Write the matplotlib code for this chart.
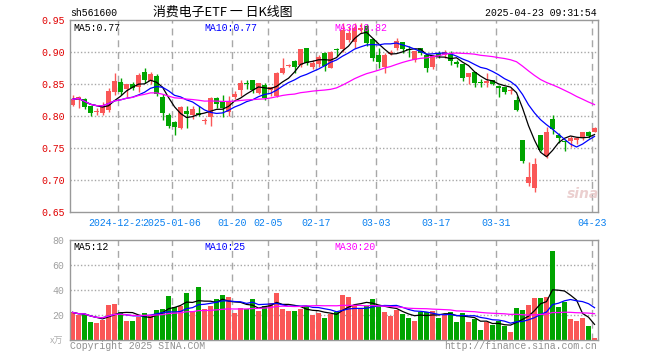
import matplotlib
matplotlib.use("Agg")
import matplotlib.pyplot as plt
import numpy as np
import pandas as pd

# daily K-line of sh561600
opens = [0.817, 0.825, 0.826, 0.815, 0.806, 0.805, 0.810, 0.838, 0.853, 0.842,
         0.850, 0.845, 0.869, 0.855, 0.862, 0.830, 0.802, 0.790, 0.782, 0.808,
         0.801, 0.804, 0.792, 0.799, 0.828, 0.824, 0.807, 0.829, 0.840, 0.852,
         0.857, 0.836, 0.849, 0.840, 0.831, 0.867, 0.878, 0.886, 0.880, 0.906,
         0.876, 0.881, 0.898, 0.875, 0.904, 0.905, 0.918, 0.916, 0.935, 0.940,
         0.921, 0.896, 0.877, 0.897, 0.906, 0.915, 0.905, 0.888, 0.906, 0.895,
         0.877, 0.899, 0.895, 0.899, 0.884, 0.881, 0.861, 0.868, 0.853, 0.852,
         0.857, 0.847, 0.846, 0.839, 0.825, 0.763, 0.696, 0.687, 0.770, 0.737,
         0.796, 0.770, 0.761, 0.761, 0.762, 0.765, 0.775, 0.775]
highs = [0.833, 0.831, 0.828, 0.816, 0.812, 0.822, 0.843, 0.867, 0.860, 0.850,
         0.853, 0.867, 0.875, 0.869, 0.865, 0.834, 0.805, 0.792, 0.815, 0.815,
         0.815, 0.816, 0.797, 0.830, 0.830, 0.833, 0.832, 0.839, 0.857, 0.857,
         0.857, 0.852, 0.852, 0.846, 0.868, 0.891, 0.881, 0.888, 0.904, 0.907,
         0.888, 0.895, 0.900, 0.901, 0.906, 0.945, 0.940, 0.946, 0.945, 0.943,
         0.922, 0.906, 0.898, 0.903, 0.922, 0.916, 0.909, 0.901, 0.906, 0.897,
         0.896, 0.901, 0.903, 0.901, 0.888, 0.881, 0.867, 0.868, 0.858, 0.867,
         0.857, 0.849, 0.846, 0.843, 0.831, 0.763, 0.728, 0.734, 0.770, 0.783,
         0.801, 0.773, 0.762, 0.769, 0.767, 0.775, 0.776, 0.783]
lows = [0.815, 0.812, 0.811, 0.800, 0.802, 0.802, 0.806, 0.833, 0.833, 0.830,
        0.840, 0.837, 0.852, 0.850, 0.832, 0.793, 0.781, 0.771, 0.779, 0.782,
        0.796, 0.800, 0.787, 0.784, 0.813, 0.799, 0.800, 0.826, 0.832, 0.842,
        0.836, 0.834, 0.825, 0.831, 0.829, 0.865, 0.876, 0.867, 0.877, 0.879,
        0.874, 0.877, 0.870, 0.875, 0.893, 0.900, 0.915, 0.906, 0.930, 0.910,
        0.886, 0.875, 0.867, 0.895, 0.903, 0.898, 0.892, 0.885, 0.895, 0.869,
        0.873, 0.890, 0.890, 0.879, 0.877, 0.855, 0.850, 0.846, 0.845, 0.845,
        0.849, 0.830, 0.834, 0.834, 0.808, 0.727, 0.690, 0.682, 0.746, 0.735,
        0.772, 0.758, 0.746, 0.751, 0.757, 0.762, 0.765, 0.775]
closes = [0.826, 0.829, 0.814, 0.804, 0.808, 0.815, 0.839, 0.854, 0.838, 0.850,
          0.843, 0.864, 0.856, 0.866, 0.835, 0.804, 0.784, 0.783, 0.814, 0.803,
          0.811, 0.802, 0.793, 0.828, 0.818, 0.812, 0.824, 0.835, 0.851, 0.850,
          0.840, 0.851, 0.828, 0.845, 0.867, 0.875, 0.880, 0.877, 0.904, 0.883,
          0.883, 0.892, 0.878, 0.900, 0.903, 0.935, 0.930, 0.937, 0.938, 0.914,
          0.890, 0.885, 0.895, 0.900, 0.917, 0.904, 0.903, 0.901, 0.898, 0.875,
          0.893, 0.894, 0.900, 0.886, 0.882, 0.859, 0.867, 0.852, 0.852, 0.854,
          0.850, 0.843, 0.838, 0.841, 0.810, 0.730, 0.705, 0.725, 0.747, 0.775,
          0.779, 0.765, 0.760, 0.765, 0.765, 0.775, 0.769, 0.781]
# volume in 万 (10k)
volumes = [22.1, 20.0, 20.5, 14.4, 13.6, 16.0, 28.0, 28.8, 22.4, 15.2,
           15.2, 18.7, 21.6, 19.5, 24.0, 24.8, 35.2, 26.7, 27.5, 37.6,
           23.2, 42.4, 24.8, 27.2, 32.8, 36.0, 34.7, 21.6, 25.6, 24.5,
           32.8, 23.2, 27.2, 29.6, 37.6, 24.8, 23.2, 23.5, 24.8, 27.0,
           20.3, 21.6, 17.6, 21.0, 22.1, 36.0, 34.7, 27.5, 24.8, 27.5,
           32.8, 27.5, 22.4, 19.5, 24.0, 20.8, 17.6, 15.2, 22.1, 22.1,
           23.2, 17.6, 20.0, 22.4, 14.4, 21.6, 14.4, 16.8, 8.0, 14.7,
           12.0, 15.2, 11.2, 6.4, 25.6, 24.0, 28.0, 33.6, 33.6, 34.4,
           71.2, 26.4, 30.4, 16.8, 15.2, 17.6, 11.2, 1.6]

tick_idx = [8, 17, 27, 33, 41, 51, 61, 71, 87]
tick_labels = ["2024-12-23", "2025-01-06", "01-20", "02-05", "02-17",
               "03-03", "03-17", "03-31", "04-23"]
price_ticks = [0.65, 0.70, 0.75, 0.80, 0.85, 0.90, 0.95]
vol_ticks = [20, 40, 60, 80]

RED = "#fa5757"
GREEN = "#00a400"
GRID = "#a8a8a8"
MONO = ["Liberation Mono", "DejaVu Sans Mono"]
FS = 7.1

plt.rcParams["lines.scale_dashes"] = False

df = pd.DataFrame({"o": opens, "h": highs, "l": lows, "c": closes, "v": volumes})
x = np.arange(len(df))
up = df.c > df.o
colors = np.where(up, RED, GREEN)

fig = plt.figure(figsize=(6.6, 3.6), dpi=100)
ax = fig.add_axes([70 / 660, 148 / 360, 528 / 660, 192 / 360])
axv = fig.add_axes([70 / 660, 20 / 360, 528 / 660, 100 / 360])

grid_x = [t - 0.42 for t in tick_idx]
for a in (ax, axv):
    a.set_xlim(-0.42, 87.58)
    for s in a.spines.values():
        s.set_color("#999999")
        s.set_linewidth(1)
    for gx in grid_x:
        a.axvline(gx, color=GRID, lw=1, dashes=(5, 3.5), zorder=0)
    a.tick_params(length=0)

# candles
ax.vlines(x, df.l, df.h, colors=colors, lw=1)
body = np.maximum((df.c - df.o).abs(), 0.0013)
ax.bar(x, body, bottom=np.minimum(df.o, df.c), width=0.82, color=colors, lw=0)

for n, col in [(5, "black"), (10, "#0000ff"), (30, "#ff00ff")]:
    ax.plot(x, df.c.rolling(n, min_periods=1).mean(), color=col, lw=0.9)
    axv.plot(x, df.v.rolling(n, min_periods=1).mean(), color=col, lw=0.9)

ax.set_ylim(0.65, 0.95)
ax.set_yticks(price_ticks)
ax.set_yticklabels([f"{p:.2f}" for p in price_ticks], family=MONO,
                   fontsize=FS, color="#e00000")
ax.tick_params(axis="y", pad=4)
for p in price_ticks[1:-1]:
    ax.axhline(p, color=GRID, lw=1, dashes=(1, 1.5), zorder=0)
ax.set_xticks(grid_x)
ax.set_xticklabels(tick_labels, family=MONO, fontsize=FS, color="#0a80f0")
for t in ax.get_xticklabels():
    t.set_bbox(dict(facecolor="white", edgecolor="none", pad=0))
ax.tick_params(axis="x", pad=4)

axv.bar(x, df.v, width=0.86, color=colors, lw=0)
axv.set_ylim(0, 80)
axv.set_yticks(vol_ticks)
axv.set_yticklabels([str(v) for v in vol_ticks], family=MONO, fontsize=FS,
                    color="#a0a0a0")
axv.tick_params(axis="y", pad=4)
for v in vol_ticks[:-1]:
    axv.axhline(v, color=GRID, lw=1, dashes=(1, 1.5), zorder=0)
axv.set_xticks(grid_x)
axv.set_xticklabels([])

# legends of the moving averages
for a, vals in [(ax, ["MA5:0.77", "MA10:0.77", "MA30:0.82"]),
                (axv, ["MA5:12", "MA10:25", "MA30:20"])]:
    for xp, txt, col in zip([73, 204, 334], vals, ["black", "#0000ff", "#ff00ff"]):
        a.text((xp - 70) / 528, 0.985, txt, transform=a.transAxes, ha="left",
               va="top", family=MONO, fontsize=FS, color=col)

fig.text(70 / 660, 1 - 13 / 360, "sh561600", family=MONO, fontsize=FS,
         va="center", ha="left")
fig.text(223 / 660, 1 - 12 / 360, "消费电子ETF 一 日K线图",
         family=["Noto Sans CJK SC", "DejaVu Sans"], fontsize=9.3,
         va="center", ha="center")
fig.text(597 / 660, 1 - 13 / 360, "2025-04-23 09:31:54", family=MONO,
         fontsize=FS, va="center", ha="right")
fig.text(70 / 660, 1 - 346 / 360, "Copyright 2025 SINA.COM", family=MONO,
         fontsize=FS, va="center", ha="left", color="#909090")
fig.text(597 / 660, 1 - 346 / 360, "http://finance.sina.com.cn", family=MONO,
         fontsize=FS, va="center", ha="right", color="#909090")
fig.text(63 / 660, 1 - 341 / 360, "x万", family=["Noto Sans CJK SC", "DejaVu Sans"],
         fontsize=6.5, va="center", ha="right", color="#b0b0b0", style="italic")
fig.text(583 / 660, 1 - 194 / 360, "sina", family="DejaVu Sans", fontsize=10,
         fontweight="bold", style="italic", va="center", ha="center",
         color="#e6c4c4", alpha=0.8)

fig.savefig("out.png", dpi=100)
